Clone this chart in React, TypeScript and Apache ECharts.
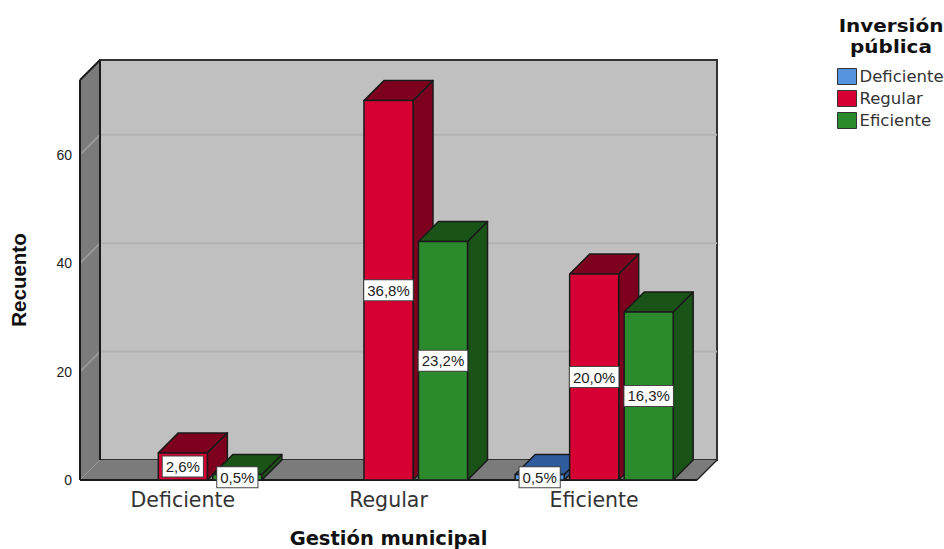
import React, { useEffect, useRef } from "react";
import * as echarts from "echarts";

const categories = ["Deficiente", "Regular", "Eficiente"];
const seriesNames = ["Deficiente", "Regular", "Eficiente"];
const deficienteValues: [number, number, string][] = [[2, 1, "0,5%"]];
const regularValues: [number, number, string][] = [[0, 5, "2,6%"], [1, 70, "36,8%"], [2, 38, "20,0%"]];
const eficienteValues: [number, number, string][] = [[0, 1, "0,5%"], [1, 44, "23,2%"], [2, 31, "16,3%"]];
const gridTicks = [20, 40, 60];
const frontColors = ["#5794e0", "#d60032", "#2a8a2c"];
const darkColors = ["#2f5c9c", "#7d001e", "#1a5318"];

const DEPTH = 20;
const FONT = "'DejaVu Sans'";
const SANS = "'Liberation Sans'";
const LINE = "#1a1a1a";

function barSeries(name: string, idx: number, data: [number, number, string][]) {
  return {
    type: "custom",
    name,
    data,
    encode: { x: 0, y: 1 },
    itemStyle: { color: frontColors[idx] },
    z: 5 + idx,
    renderItem: (_p: any, api: any) => {
      const top = api.coord([api.value(0), api.value(1)]);
      const base = api.coord([api.value(0), 0]);
      const band = api.size([1, 0])[0];
      const w = band * 0.2384;
      const cx = top[0] + (idx - 1) * band * 0.265;
      const l = cx - w / 2;
      const r = cx + w / 2;
      const stroke = { stroke: LINE, lineWidth: 1.5, lineJoin: "round" };
      const label = data[_p.dataIndex][2];
      return {
        type: "group",
        children: [
          { type: "polygon", shape: { points: [[r, top[1]], [r + DEPTH, top[1] - DEPTH], [r + DEPTH, base[1] - DEPTH], [r, base[1]]] }, style: { fill: darkColors[idx], ...stroke } },
          { type: "polygon", shape: { points: [[l, top[1]], [l + DEPTH, top[1] - DEPTH], [r + DEPTH, top[1] - DEPTH], [r, top[1]]] }, style: { fill: darkColors[idx], ...stroke } },
          { type: "rect", shape: { x: l, y: top[1], width: w, height: base[1] - top[1] }, style: { fill: frontColors[idx], ...stroke } },
          {
            type: "text",
            z2: 100,
            x: cx,
            y: (top[1] + base[1]) / 2,
            style: {
              text: label, align: "center", verticalAlign: "middle", fontSize: 15, fontFamily: SANS, fill: "#222",
              backgroundColor: "#fff", borderColor: "#444", borderWidth: 1, padding: [3, 3, 2, 3],
            },
          },
        ],
      };
    },
  };
}

const frameSeries = {
  type: "custom",
  name: "frame",
  data: [[0, 0]],
  encode: { x: 0, y: 1 },
  z: 1,
  silent: true,
  renderItem: (p: any, api: any) => {
    const c = p.coordSys;
    const x0 = c.x, x1 = c.x + c.width, y0 = c.y, y1 = c.y + c.height;
    const d = DEPTH;
    const children: any[] = [
      { type: "rect", shape: { x: x0 + d, y: y0 - d, width: c.width, height: c.height }, style: { fill: "#c0c0c0", stroke: "#333", lineWidth: 2 } },
      { type: "polygon", shape: { points: [[x0, y0], [x0 + d, y0 - d], [x0 + d, y1 - d], [x0, y1]] }, style: { fill: "#7b7b7b" } },
      { type: "polygon", shape: { points: [[x0, y1], [x0 + d, y1 - d], [x1 + d, y1 - d], [x1, y1]] }, style: { fill: "#7b7b7b" } },
    ];
    gridTicks.forEach((t) => {
      const y = api.coord([0, t])[1];
      children.push({ type: "line", shape: { x1: x0 + d, y1: y - d, x2: x1 + d, y2: y - d }, style: { stroke: "#b2b2b2", lineWidth: 2 } });
      children.push({ type: "line", shape: { x1: x0, y1: y, x2: x0 + d, y2: y - d }, style: { stroke: "#989898", lineWidth: 2 } });
    });
    children.push(
      { type: "line", shape: { x1: x0 + d, y1: y1 - d, x2: x0, y2: y1 }, style: { stroke: "#989898", lineWidth: 1 } },
      { type: "line", shape: { x1: x1 + d, y1: y1 - d, x2: x1, y2: y1 }, style: { stroke: "#222", lineWidth: 1.5 } },
      { type: "line", shape: { x1: x0, y1: y0, x2: x0, y2: y1 }, style: { stroke: LINE, lineWidth: 2 } },
      { type: "line", shape: { x1: x0, y1: y0, x2: x0 + d, y2: y0 - d }, style: { stroke: LINE, lineWidth: 2 } },
      { type: "line", shape: { x1: x0 + d, y1: y0 - d, x2: x0 + d, y2: y1 - d }, style: { stroke: LINE, lineWidth: 2 } },
      { type: "line", shape: { x1: x0, y1: y1, x2: x1, y2: y1 }, style: { stroke: LINE, lineWidth: 2 } },
    );
    return { type: "group", children };
  },
};

export default function App() {
  const ref = useRef<HTMLDivElement>(null);
  useEffect(() => {
    const chart = echarts.init(ref.current!, null, { renderer: "svg" });
    chart.setOption({
      animation: false,
      backgroundColor: "#fff",
      grid: { left: 80, top: 80, width: 617, height: 400, containLabel: false, outerBoundsMode: "none" },
      xAxis: {
        type: "category",
        data: categories,
        axisLine: { show: false },
        axisTick: { show: false },
        axisLabel: { fontSize: 20.5, fontFamily: FONT, color: "#333", margin: 9 },
        name: "Gestión municipal",
        nameLocation: "middle",
        nameGap: 48,
        nameTextStyle: { fontSize: 19.5, fontWeight: "bold", fontFamily: FONT, color: "#111" },
      },
      yAxis: {
        type: "value",
        min: 0,
        max: 73.8,
        interval: 20,
        axisLine: { show: false },
        axisTick: { show: false },
        splitLine: { show: false },
        axisLabel: { fontSize: 14, fontFamily: SANS, color: "#222", margin: 8, showMaxLabel: false },
        name: "Recuento",
        nameLocation: "middle",
        nameGap: 51,
        nameRotate: 90,
        nameTextStyle: { fontSize: 20.5, fontWeight: "bold", fontFamily: SANS, color: "#111" },
      },
      legend: {
        left: 837,
        top: 68,
        padding: 0,
        orient: "vertical",
        icon: "rect",
        itemWidth: 19,
        itemHeight: 16,
        itemGap: 5,
        data: seriesNames,
        selectedMode: false,
        itemStyle: { borderColor: "#333", borderWidth: 1 },
        textStyle: { fontSize: 16.5, fontFamily: FONT, color: "#333", padding: [0, 0, 0, -2] },
      },
      graphic: [
        {
          type: "text", x: 891, y: 16, scaleX: 1.08, silent: true,
          style: { text: "Inversión", fontSize: 18.5, fontWeight: "bold", fontFamily: FONT, fill: "#111", align: "center" },
        },
        {
          type: "text", x: 891, y: 37, scaleX: 1.08, silent: true,
          style: { text: "pública", fontSize: 18.5, fontWeight: "bold", fontFamily: FONT, fill: "#111", align: "center" },
        },
      ],
      series: [
        frameSeries,
        barSeries(seriesNames[0], 0, deficienteValues),
        barSeries(seriesNames[1], 1, regularValues),
        barSeries(seriesNames[2], 2, eficienteValues),
      ],
    });
    return () => chart.dispose();
  }, []);
  return <div ref={ref} style={{ position: "fixed", left: 0, top: 0, width: 944, height: 549 }} />;
}
